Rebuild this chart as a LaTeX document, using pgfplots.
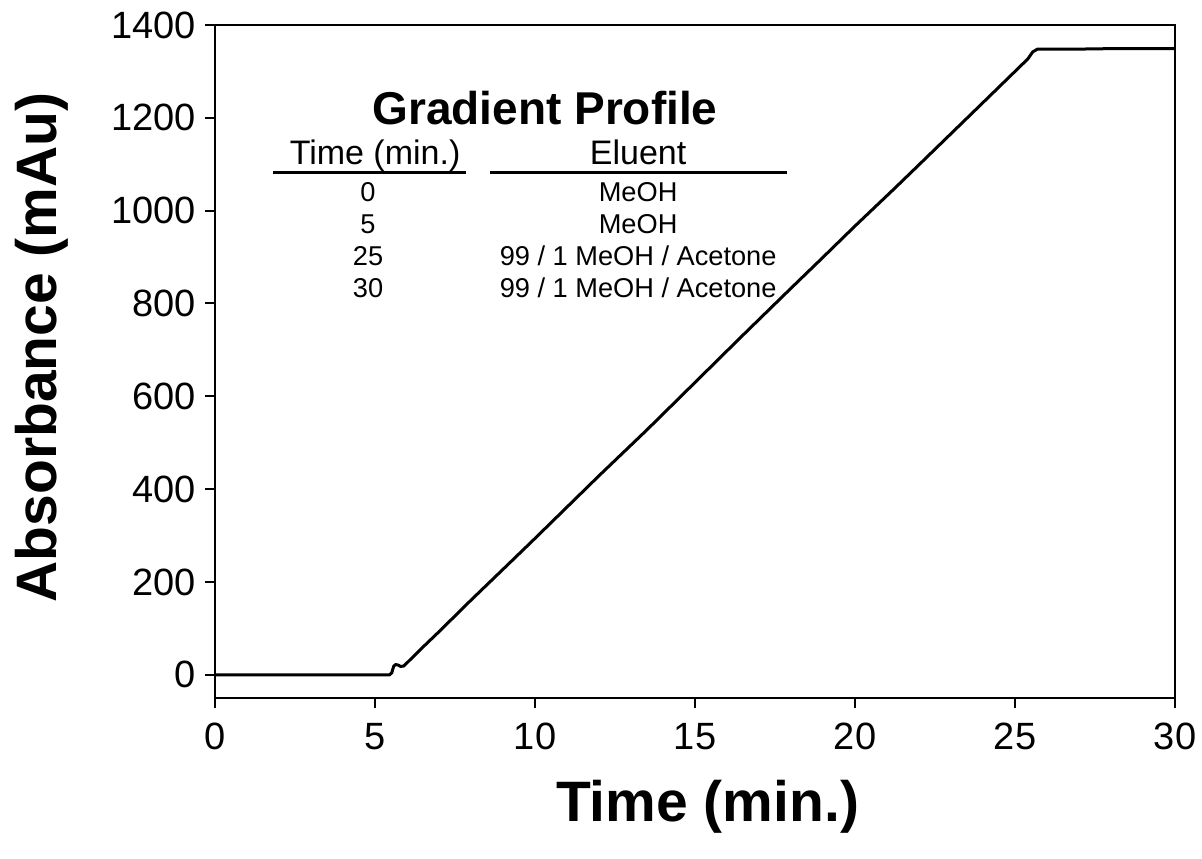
\documentclass[border=0pt]{standalone}
\usepackage{fontspec}
\setmainfont{Liberation Sans}
\usepackage{pgfplots}
\pgfplotsset{compat=1.18}
\begin{document}
\begin{tikzpicture}
\begin{axis}[
  scale only axis, width=480pt, height=336.5pt,
  xmin=0, xmax=30, ymin=-50, ymax=1400,
  xtick={0,5,...,30}, ytick={0,200,...,1400},
  tick align=outside, tick pos=left, major tick length=5pt,
  axis line style={line width=1pt},
  tick style={line width=1pt, black},
  ticklabel style={font=\fontsize{19}{19}\selectfont},
  xticklabel style={yshift=-4pt},
  yticklabel style={xshift=-1pt},
  /pgf/number format/assume math mode=true,
  /pgf/number format/1000 sep={},
  xlabel={Time (min.)}, ylabel={Absorbance (mAu)},
  label style={font=\bfseries\fontsize{28.5}{30}\selectfont},
  xlabel style={at={(axis description cs:0.513,-0.162)}, anchor=center},
  ylabel style={at={(axis description cs:-0.180,0.521)}, anchor=center},
  clip=false,
]
% detector trace
\addplot[black, line width=1.5pt] coordinates {
  (0,0) (1,0) (2,0) (3,0) (4,0) (5,0) (5.45,0) (5.52,4) (5.58,18)
  (5.64,22) (5.72,21) (5.8,18) (5.9,19) (6.41,54) (7,93) (7.5,127)
  (8,161) (9.31,248) (10,294) (12,429) (13.5,528) (15,630) (16.41,726)
  (18,833) (18.9,893) (20,967) (21.19,1045) (22,1099) (24,1233)
  (25.4,1327) (25.55,1342) (25.7,1348) (27,1348) (28,1349) (29,1349) (30,1349)
};
% gradient table
\node[font=\bfseries\fontsize{23}{24}\selectfont] at (axis cs:10.31,1221) {Gradient Profile};
\node[font=\fontsize{17}{18}\selectfont, anchor=base] at (axis cs:5.0,1099) {Time (min.)};
\node[font=\fontsize{17}{18}\selectfont, anchor=base] at (axis cs:13.22,1099) {Eluent};
\draw[line width=1.5pt] (axis cs:1.81,1083) -- (axis cs:7.84,1083);
\draw[line width=1.5pt] (axis cs:8.59,1083) -- (axis cs:17.875,1083);
\begin{scope}[every node/.style={font=\fontsize{13.6}{14}\selectfont}]
\node at (axis cs:4.78,1040) {0};
\node at (axis cs:13.22,1040) {MeOH};
\node at (axis cs:4.78,971) {5};
\node at (axis cs:13.22,971) {MeOH};
\node at (axis cs:4.78,902) {25};
\node at (axis cs:13.22,902) {99 / 1 MeOH / Acetone};
\node at (axis cs:4.78,833) {30};
\node at (axis cs:13.22,833) {99 / 1 MeOH / Acetone};
\end{scope}
\coordinate (bl) at (axis cs:-6.72,-396.3);
\coordinate (tr) at (axis cs:30.84,1453.8);
\end{axis}
\pgfresetboundingbox
\path (bl) rectangle (tr);
\end{tikzpicture}
\end{document}
